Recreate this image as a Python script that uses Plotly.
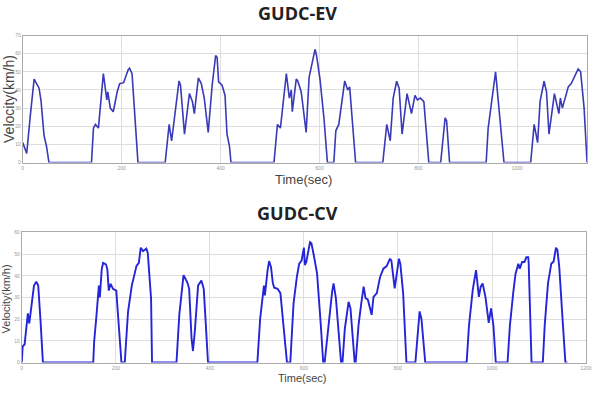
import plotly.graph_objects as go

# GUDC-EV
t_ev = [0, 8, 15, 23, 28, 33, 37, 43, 48, 53,
        139, 143, 147, 153, 163, 170, 172, 177, 183, 191, 196, 204, 213, 216, 221, 226, 233,
        288, 296, 301, 304, 316, 319, 327, 337, 343, 347, 355, 361, 367, 375, 383, 390, 393, 396, 403, 409, 413, 418, 421,
        508, 515, 521, 533, 539, 543, 545, 553, 556, 563, 573, 579, 591, 594, 601, 609, 616,
        629, 633, 639, 651, 657, 661, 663, 673,
        728, 736, 743, 749, 756, 761, 767, 777, 786, 793, 798, 804, 811, 821,
        845, 854, 857, 863,
        937, 941, 956, 973,
        1027, 1034, 1041, 1046, 1054, 1059, 1064, 1075, 1084, 1087, 1091, 1103, 1109, 1123, 1128, 1135, 1141]
v_ev = [11, 5, 25, 46, 43.5, 41, 34, 15, 9, 0,
        0, 19, 21, 19, 49, 34.5, 39, 30, 28, 39, 43.5, 44, 51, 52, 49, 30, 0,
        0, 21, 12, 19, 45, 42.6, 15.7, 38, 33.6, 27, 46.6, 43.5, 35.5, 16.6, 42.6, 59, 58, 44.5, 42.6, 37, 15.6, 9, 0,
        0, 21, 19, 49, 35.5, 40, 28, 46, 45, 39, 16.6, 47, 62.4, 59, 46, 24.5, 0,
        0, 17.5, 21, 45, 40, 41.7, 34.5, 0,
        0, 21, 12, 35.5, 44.8, 41, 15.7, 38, 27, 37, 34.5, 35.5, 33.6, 0,
        0, 24.7, 23, 0,
        0, 19, 50, 0,
        0, 21, 11, 33.6, 44.8, 39, 15.7, 38, 27, 35.5, 30, 41.7, 43.5, 51.6, 50, 30, 0]

# GUDC-CV
t_cv = [0, 2, 6, 10.5, 13, 16, 19, 22, 26, 31, 35, 40, 45,
        152, 154, 159, 164, 166, 170, 173, 179, 182, 185, 189, 194, 201, 206, 212,
        219, 226, 234, 244, 249, 253, 258, 265, 268, 275, 277,
        329, 335, 344, 352, 356, 361, 364, 368, 375, 382, 387, 391, 396,
        501, 507, 515, 517, 523, 526, 530, 534, 537, 544, 550, 557, 564,
        571, 578, 585, 590, 595, 600, 602, 605, 613, 616, 621, 628, 636, 641,
        644, 653, 660, 663, 668, 679,
        682, 687, 691, 695, 699, 705, 708,
        710, 716, 722, 727, 731, 736, 744, 748, 755, 762, 769, 776, 783, 786, 793, 802, 805, 811, 816, 818,
        837, 846, 850, 858,
        946, 951, 959, 966, 972, 976, 980, 986, 993, 998, 1003, 1008,
        1033, 1038, 1045, 1050, 1056, 1059, 1064, 1069, 1073, 1077, 1078, 1084,
        1108, 1112, 1119, 1126, 1131, 1136, 1139, 1143, 1150, 1156, 1160]
v_cv = [0, 7.5, 8.3, 19, 22.7, 18, 23.4, 29.5, 35.5, 37.3, 35.5, 19, 0,
        0, 9.8, 22, 35.5, 30, 43, 46, 45.3, 43, 33.2, 36.3, 34, 33.2, 19, 0,
        0, 23.4, 35.5, 44.6, 46, 53, 51.4, 52.6, 50.6, 29.5, 0,
        0, 22, 40.3, 37, 34, 11.3, 5.3, 14.4, 35.5, 37.8, 34, 19, 0,
        0, 20.4, 35.5, 31, 43, 46.8, 44, 36.5, 34.5, 34, 32, 17, 0,
        0, 27.4, 39.5, 45.6, 47, 53, 45, 46.4, 55.5, 55, 49.5, 41, 17, 0,
        0, 19.8, 32.7, 36.5, 29.7, 0,
        0, 15.6, 22, 28, 25, 7, 0,
        0, 17, 27.4, 35, 29.7, 29, 22, 30.3, 32, 39.5, 43.3, 44.5, 47.9, 47, 34.2, 47.9, 45.6, 32, 9, 0,
        0, 23.6, 20, 0,
        0, 17, 33.5, 42.6, 30.3, 35, 36.5, 30.3, 18.3, 25, 17, 0,
        0, 17, 32, 41, 45.6, 43.3, 46.4, 46.4, 48.6, 48.6, 45.6, 0,
        0, 17, 36.5, 45.6, 46.6, 53, 52, 44, 20, 0, 0]

ev_xticks = [0, 200, 400, 600, 800, 1000]
ev_yticks = [0, 10, 20, 30, 40, 50, 60, 70]
cv_xticks = [0, 200, 400, 600, 800, 1000, 1200]
cv_yticks = [0, 10, 20, 30, 40, 50, 60]

W, H = 599, 399
fig = go.Figure()
fig.add_trace(go.Scatter(x=t_ev, y=v_ev, mode="lines",
                         line=dict(color="#3a3ab8", width=1.6), xaxis="x", yaxis="y",
                         showlegend=False, hoverinfo="skip"))
fig.add_trace(go.Scatter(x=t_cv, y=v_cv, mode="lines",
                         line=dict(color="#2424d8", width=1.9), xaxis="x2", yaxis="y2",
                         showlegend=False, hoverinfo="skip"))

axis_common = dict(showgrid=True, gridcolor="#dedede", gridwidth=1,
                   showline=True, linecolor="#aaaaaa", linewidth=1, mirror=True,
                   zeroline=False, ticks="", tickfont=dict(size=5, color="#999999", family="Liberation Sans"))

def px_x(p):
    return p / W

def px_y(p):
    return 1 - p / H

fig.update_layout(
    width=W, height=H, margin=dict(l=0, r=0, t=0, b=0),
    paper_bgcolor="white", plot_bgcolor="white",
    xaxis=dict(domain=[px_x(22), px_x(593)], range=[0, 1141], tickvals=ev_xticks,
               anchor="y", **axis_common),
    yaxis=dict(domain=[px_y(162), px_y(33)], range=[0, 70], tickvals=ev_yticks,
               anchor="x", **axis_common),
    xaxis2=dict(domain=[px_x(21), px_x(592)], range=[0, 1200], tickvals=cv_xticks,
                anchor="y2", **axis_common),
    yaxis2=dict(domain=[px_y(365), px_y(233)], range=[0, 60], tickvals=cv_yticks,
                anchor="x2", **axis_common),
)

title_font = dict(family="Open Sans", size=18, color="#222222", weight="bold")
lab_font_big = dict(family="Liberation Sans", size=13, color="#444444")
lab_font_small = dict(family="Liberation Sans", size=11, color="#444444")

annotations = [
    dict(text="<b>GUDC-EV</b>", x=px_x(300), y=px_y(10.5), font=title_font),
    dict(text="<b>GUDC-CV</b>", x=px_x(300), y=px_y(213), font=title_font),
    dict(text="Time(sec)", x=px_x(306), y=px_y(179), font=lab_font_big),
    dict(text="Velocity(km/h)", x=px_x(7.5), y=px_y(97), textangle=-90,
         font=dict(family="Liberation Sans", size=14, color="#444444")),
    dict(text="Time(sec)", x=px_x(305), y=px_y(381), font=dict(family="Liberation Sans", size=11, color="#444444")),
    dict(text="Velocity(km/h)", x=px_x(6), y=px_y(300), textangle=-90, font=lab_font_small),
]
for a in annotations:
    a.update(xref="paper", yref="paper", showarrow=False, xanchor="center", yanchor="middle")
fig.update_layout(annotations=annotations)

fig.write_html("out.html")
